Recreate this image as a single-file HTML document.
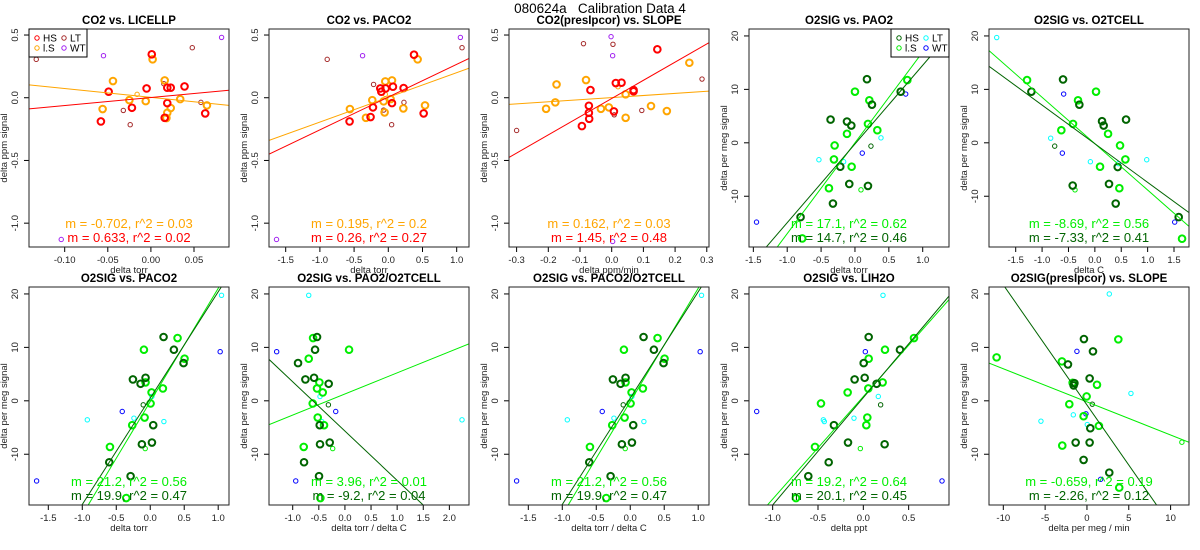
<!DOCTYPE html>
<html><head><meta charset="utf-8">
<style>
html,body{margin:0;padding:0;background:#fff;width:1200px;height:550px;overflow:hidden;}
svg{display:block;font-family:"Liberation Sans",Arial,sans-serif;}
</style></head>
<body>
<svg id="chart" width="1200" height="550" viewBox="0 0 1200 550" xmlns="http://www.w3.org/2000/svg">
<rect x="0" y="0" width="1200" height="550" fill="#fff"/>
<text x="600" y="13" text-anchor="middle" font-size="13.5" style="white-space:pre" xml:space="preserve">080624a   Calibration Data 4</text>
</svg>
<script>
// ---- data (data units) ----
const p1HS=[[-0.049,0.048],[-0.005,0.074],[0.001,0.346],[0.019,0.080],[0.023,0.080],[0.039,0.090],[0.019,-0.043],[-0.022,-0.080],[-0.058,-0.189],[0.016,-0.160],[0.063,-0.125]];
const p1LS=[[0.002,0.306],[-0.044,0.133],[0.016,0.138],[-0.025,-0.019],[-0.056,-0.090],[-0.006,-0.027],[0.034,-0.011],[0.023,-0.082],[0.019,-0.120],[0.018,-0.162],[0.065,-0.061]];
const p1LSs=[[-0.016,0.027]];
const p1HSs=[];
const p1LT=[[-0.133,0.306],[0.048,0.399],[0.015,0.112],[0.058,-0.037],[-0.032,-0.101],[-0.024,-0.215]];
const p1WT=[[-0.055,0.335],[0.082,0.481],[-0.104,-1.13]];

const p2HS=[[0.376,0.343],[-0.566,-0.189],[-0.117,0.074],[-0.039,0.074],[0.068,0.088],[0.224,0.077],[-0.224,-0.077],[-0.259,-0.154],[0.054,-0.043],[0.517,-0.125],[-0.102,0.048]];
const p2LS=[[0.429,0.306],[-0.044,0.130],[0.054,0.138],[-0.234,-0.019],[-0.561,-0.090],[-0.327,-0.160],[-0.068,-0.029],[0.034,-0.011],[-0.054,-0.117],[0.220,-0.085],[0.537,-0.061]];
const p2LSs=[[-0.044,0.027]];
const p2HSs=[];
const p2LT=[[-0.893,0.306],[1.078,0.399],[-0.215,0.106],[0.229,-0.037],[-0.068,-0.098],[0.049,-0.215]];
const p2WT=[[-0.376,0.335],[1.054,0.481],[-1.634,-1.13]];

const p3HS=[[0.144,0.386],[-0.067,0.061],[0.013,0.117],[0.031,0.120],[0.069,0.061],[0.069,0.051],[-0.072,-0.064],[-0.072,-0.120],[-0.071,-0.168],[-0.094,-0.226],[0.007,-0.109]];
const p3LS=[[0.245,0.279],[-0.174,0.106],[-0.081,0.141],[-0.178,-0.037],[-0.207,-0.088],[-0.034,-0.088],[-0.009,-0.077],[0.044,0.027],[0.044,-0.160],[0.124,-0.066],[0.174,-0.106]];
const p3LSs=[[0.020,0.088]];
const p3HSs=[];
const p3LT=[[-0.089,0.431],[0.004,0.426],[0.285,0.149],[0.095,-0.101],[0.008,-0.136],[-0.300,-0.261]];
const p3WT=[[-0.002,0.487],[0.003,0.335],[0.003,-1.146]];

const p4HS=[[-0.360,4.35],[-0.118,3.98],[-0.054,3.23],[0.177,11.9],[0.251,7.14],[0.675,9.57],[-0.217,-4.47],[-0.084,-7.70],[0.192,-8.07],[-0.325,-11.37],[-0.803,-13.9]];
const p4LS=[[0.0,9.57],[0.212,7.95],[0.773,11.74],[-0.118,1.68],[-0.300,-0.50],[0.192,3.54],[0.330,2.36],[-0.310,-3.11],[-0.049,-4.47],[-0.384,-8.5],[-0.778,-17.9]];
const p4LSs=[[0.089,-8.8]];
const p4HSs=[[0.236,-0.62]];
const p4LT=[[-0.532,-3.17],[-0.167,-3.54],[0.384,0.93]];
const p4WT=[[0.749,9.13],[0.108,-1.93],[-1.453,-14.84]];

const p5HS=[[-1.203,9.57],[-0.603,11.86],[-0.294,7.14],[0.136,4.04],[0.167,3.23],[0.591,4.35],[-0.420,-8.0],[0.268,-7.70],[0.395,-11.37],[0.433,-4.53],[1.589,-13.9]];
const p5LS=[[-1.285,11.74],[0.022,9.57],[-0.319,7.95],[-0.414,3.54],[-0.635,2.36],[0.250,1.68],[0.477,-0.50],[0.578,-3.11],[0.098,-4.47],[0.464,-8.5],[1.652,-17.95]];
const p5LSs=[[-0.376,-8.8]];
const p5HSs=[[-0.761,-0.62]];
const p5LT=[[-1.86,19.7],[-0.837,0.87],[-0.085,-3.54],[0.983,-3.17],[0.445,-3.9]];
const p5WT=[[-0.591,9.13],[-0.616,-1.93],[1.513,-14.84]];

const b1HS=[[0.196,11.94],[0.348,9.56],[0.490,7.06],[-0.255,4.0],[-0.069,4.31],[-0.142,3.19],[0.044,-4.56],[-0.123,-8.13],[0.025,-7.81],[-0.603,-11.5],[-0.289,-14.1]];
const b1LS=[[0.402,11.75],[-0.093,9.56],[0.505,7.88],[-0.069,3.44],[0.186,2.31],[0.020,1.56],[0.005,-0.5],[-0.083,-3.13],[-0.265,-4.56],[-0.593,-8.63],[-0.353,-18.2]];
const b1LSs=[[-0.074,-8.94]];
const b1HSs=[[-0.103,-0.75]];
const b1LT=[[1.049,19.75],[-0.926,-3.56],[-0.240,-3.25],[0.201,-3.88],[0.025,0.81]];
const b1WT=[[1.029,9.19],[-0.412,-2.0],[-1.672,-15.0]];

const b2HS=[[-0.534,11.94],[-0.572,9.56],[-0.898,7.06],[-0.757,4.0],[-0.591,4.31],[-0.311,3.19],[-0.483,-4.56],[-0.477,-8.13],[-0.291,-7.81],[-0.783,-11.5],[-0.496,-14.1]];
const b2LS=[[-0.610,11.75],[0.079,9.56],[-0.693,7.88],[-0.489,3.44],[-0.534,2.31],[-0.425,1.56],[-0.617,-0.5],[-0.521,-3.13],[-0.400,-4.56],[-0.789,-8.63],[-0.470,-18.2]];
const b2LSs=[[-0.234,-8.94]];
const b2HSs=[[-0.317,-0.75]];
const b2LT=[[-0.693,19.75],[-0.477,0.81],[-0.444,-3.88],[2.242,-3.56]];
const b2WT=[[-1.307,9.19],[-0.176,-2.0],[-0.942,-15.0]];

const b4HS=[[0.059,11.94],[0.404,9.56],[0.004,7.06],[-0.096,4.0],[0.015,4.31],[0.147,3.19],[-0.324,-4.56],[-0.169,-7.81],[0.235,-8.13],[-0.382,-11.5],[-0.607,-14.1]];
const b4LS=[[0.559,11.75],[0.239,9.56],[0.059,7.88],[0.213,3.44],[0.055,2.31],[-0.173,1.56],[-0.467,-0.5],[0.044,-3.13],[0.033,-4.56],[-0.533,-8.63],[-0.743,-18.2]];
const b4LSs=[[-0.033,-8.94]];
const b4HSs=[[0.191,-0.75]];
const b4LT=[[0.217,19.75],[0.165,0.81],[-0.103,-3.25],[-0.441,-3.56],[-0.43,-3.88]];
const b4WT=[[0.022,9.19],[-1.176,-2.0],[0.868,-15.0]];

const b5HS=[[-0.36,11.56],[0.72,9.25],[-2.27,6.81],[0.32,4.19],[-1.59,2.88],[-1.35,-7.81],[0.32,-7.81],[-0.40,-11.06],[2.67,-13.44],[0.40,-5.13],[-1.5,3.3]];
const b5LS=[[-10.80,8.13],[3.75,11.5],[-2.99,7.38],[-1.71,3.38],[1.20,3.0],[-0.04,0.81],[-2.11,-0.63],[-0.40,-2.88],[1.43,-4.69],[-2.95,-8.38],[3.86,-16.25]];
const b5LSs=[[11.35,-7.75]];
const b5HSs=[[0.64,-0.63]];
const b5LT=[[2.67,20.0],[5.26,1.38],[-1.63,-2.63],[-5.50,-3.81],[0.04,-4.44]];
const b5WT=[[-1.20,9.25],[-0.12,-2.44],[1.63,-14.7]];

// fits: [slope, intercept] for LS then HS
const fitsLS=[[-0.702,0.003],[0.197,0.003],[0.168,0.001],[17.0,0.0],[-8.68,-0.16],[21.2,-0.15],[3.95,1.28],[21.2,-0.15],[19.2,0.8],[-0.62,-0.2]];
const fitsHS=[[0.64,0.002],[0.261,0.005],[1.45,-0.006],[14.73,-0.22],[-7.23,-0.17],[19.9,0.5],[-9.23,-5.67],[19.9,0.5],[20.1,0.6],[-2.248,-0.78]];
const statLS=["m = -0.702, r^2 = 0.03","m = 0.195, r^2 = 0.2","m = 0.162, r^2 = 0.03","m = 17.1, r^2 = 0.62","m = -8.69, r^2 = 0.56","m = 21.2, r^2 = 0.56","m = 3.96, r^2 = 0.01","m = 21.2, r^2 = 0.56","m = 19.2, r^2 = 0.64","m = -0.659, r^2 = 0.19"];
const statHS=["m = 0.633, r^2 = 0.02","m = 0.26, r^2 = 0.27","m = 1.45, r^2 = 0.48","m = 14.7, r^2 = 0.46","m = -7.33, r^2 = 0.41","m = 19.9, r^2 = 0.47","m = -9.2, r^2 = 0.04","m = 19.9, r^2 = 0.47","m = 20.1, r^2 = 0.45","m = -2.26, r^2 = 0.12"];
const titles=["CO2 vs. LICELLP","CO2 vs. PACO2","CO2(presIpcor) vs. SLOPE","O2SIG vs. PAO2","O2SIG vs. O2TCELL","O2SIG vs. PACO2","O2SIG vs. PAO2/O2TCELL","O2SIG vs. PACO2/O2TCELL","O2SIG vs. LIH2O","O2SIG(presIpcor) vs. SLOPE"];
const xlabels=["delta torr","delta torr","delta ppm/min","delta torr","delta C","delta torr","delta torr / delta C","delta torr / delta C","delta ppt","delta per meg / min"];
const xTickLabels=[["-0.10","-0.05","0.00","0.05"],["-1.5","-1.0","-0.5","0.0","0.5","1.0"],["-0.3","-0.2","-0.1","0.0","0.1","0.2","0.3"],["-1.5","-1.0","-0.5","0.0","0.5","1.0"],["-1.5","-1.0","-0.5","0.0","0.5","1.0","1.5"],["-1.5","-1.0","-0.5","0.0","0.5","1.0"],["-1.0","-0.5","0.0","0.5","1.0","1.5","2.0"],["-1.5","-1.0","-0.5","0.0","0.5","1.0"],["-1.0","-0.5","0.0","0.5"],["-10","-5","0","5","10"]];
const yTickCO2=["-1.0","-0.5","0.0","0.5"];
const yTickO2=["-10","0","10","20"];
const xlims=[[-0.1414,0.0906],[-1.744,1.18],[-0.324,0.307],[-1.564,1.388],[-2.006,1.784],[-1.784,1.159],[-1.454,2.376],[-1.784,1.159],[-1.261,0.945],[-11.71,12.2]];
const series=[[p1HS,p1LS,p1HSs,p1LSs,p1LT,p1WT],[p2HS,p2LS,p2HSs,p2LSs,p2LT,p2WT],[p3HS,p3LS,p3HSs,p3LSs,p3LT,p3WT],[p4HS,p4LS,p4HSs,p4LSs,p4LT,p4WT],[p5HS,p5LS,p5HSs,p5LSs,p5LT,p5WT],[b1HS,b1LS,b1HSs,b1LSs,b1LT,b1WT],[b2HS,b2LS,b2HSs,b2LSs,b2LT,b2WT],[b1HS,b1LS,b1HSs,b1LSs,b1LT,b1WT],[b4HS,b4LS,b4HSs,b4LSs,b4LT,b4WT],[b5HS,b5LS,b5HSs,b5LSs,b5LT,b5WT]];

// ---- drawing ----
const NS="http://www.w3.org/2000/svg";
const svg=document.getElementById('chart');
function mk(tag,attrs,parent){const e=document.createElementNS(NS,tag);for(const k in attrs)e.setAttribute(k,attrs[k]);(parent||svg).appendChild(e);return e;}
const CO2C={HS:"#FF0000",LS:"#FFA500",LT:"#A52A2A",WT:"#A020F0"};
const O2C={HS:"#006400",LS:"#00EE00",LT:"#00FFFF",WT:"#0000FF"};
const W=200,H=218;
for(let i=0;i<10;i++){
  const col=i%5,row=Math.floor(i/5);
  const bx=29+240*col, by=row===0?29:287;
  const isCO2=(i<3);
  const C=isCO2?CO2C:O2C;
  const ylim=isCO2?[-1.19,0.548]:[-19.5,21.3];
  const [x0,x1]=xlims[i];
  const sx=v=>bx+(v-x0)/(x1-x0)*W;
  const sy=v=>by+H-(v-ylim[0])/(ylim[1]-ylim[0])*H;
  const g=mk('g',{});
  
  
  const clip=mk('clipPath',{id:'clip'+i},g);
  mk('rect',{x:bx,y:by,width:W,height:H},clip);
  const t=mk('text',{x:bx+W/2,y:by-5,'text-anchor':'middle','font-size':'11.5','font-weight':'bold'},g);
  t.textContent=titles[i];
  
  
  xTickLabels[i].forEach(lbl=>{
    const v=parseFloat(lbl),px=sx(v);
    mk('line',{x1:px,y1:by+H,x2:px,y2:by+H+5,stroke:'#000','stroke-width':1},g);
    const tl=mk('text',{x:px,y:by+H+16,'text-anchor':'middle','font-size':'9.5',fill:'#222'},g);
    tl.textContent=lbl;
    
    
  });
  const xl=mk('text',{x:bx+W/2,y:by+H+26,'text-anchor':'middle','font-size':'9.5',fill:'#222'},g);
  xl.textContent=xlabels[i];
  
  
  (isCO2?yTickCO2:yTickO2).forEach(lbl=>{
    const v=parseFloat(lbl),py=sy(v);
    mk('line',{x1:bx-5,y1:py,x2:bx,y2:py,stroke:'#000','stroke-width':1},g);
    const tl=mk('text',{x:bx-11,y:py,'text-anchor':'middle','font-size':'9.5',fill:'#222',transform:`rotate(-90 ${bx-11} ${py})`},g);
    tl.textContent=lbl;
    
    
  });
  const yl=mk('text',{x:bx-22,y:by+H/2+10,'text-anchor':'middle','font-size':'9.5',fill:'#222',transform:`rotate(-90 ${bx-22} ${by+H/2+10})`},g);
  yl.textContent=isCO2?"delta ppm signal":"delta per meg signal";
  
  
  const pg=mk('g',{'clip-path':`url(#clip${i})`},g);
  const [sHS,sLS,sHSs,sLSs,sLT,sWT]=series[i];
  const spec=[[sLT,C.LT,2.2,1,'lt-point'],[sWT,C.WT,2.2,1,'wt-point'],[sHSs,C.HS,2.2,1,'hs-small-point'],[sLSs,C.LS,2.2,1,'ls-small-point'],[sLS,C.LS,3.3,2,'ls-point'],[sHS,C.HS,3.3,2,'hs-point']];
  spec.forEach(([arr,color,r,sw,nm])=>{
    arr.forEach(p=>{
      const c=mk('circle',{cx:sx(p[0]),cy:sy(p[1]),r:r,fill:'none',stroke:color,'stroke-width':sw},pg);
      
      
    });
  });
  [[fitsLS[i],C.LS,'ls-fit-line'],[fitsHS[i],C.HS,'hs-fit-line']].forEach(([f,color,nm])=>{
    const l=mk('line',{x1:sx(x0),y1:sy(f[0]*x0+f[1]),x2:sx(x1),y2:sy(f[0]*x1+f[1]),stroke:color,'stroke-width':1},pg);
    
    
  });
  const s1=mk('text',{x:bx+W/2,y:by+199,'text-anchor':'middle','font-size':'13',fill:C.LS},g);
  s1.textContent=statLS[i];
  
  
  const s2=mk('text',{x:bx+W/2,y:by+213,'text-anchor':'middle','font-size':'13',fill:C.HS},g);
  s2.textContent=statHS[i];
  
  
  const b=mk('rect',{x:bx,y:by,width:W,height:H,fill:'none',stroke:'#222','stroke-width':1},g);
  
  
  if(i===0||i===3){
    const lx=i===0?bx:bx+W-58, ly=by;
    const lg=mk('g',{},g);
    
    
    mk('rect',{x:lx,y:ly,width:58,height:28,fill:'#fff',stroke:'#000','stroke-width':1},lg);
    [['HS',0,0],['LT',1,0],['LS',0,1],['WT',1,1]].forEach(([k,cx,cy])=>{
      const ex=lx+8+cx*27, ey=ly+9+cy*10;
      const e=mk('g',{},lg);
      
      
      mk('circle',{cx:ex,cy:ey,r:2.2,fill:'none',stroke:C[k],'stroke-width':1},e);
      const tt=mk('text',{x:ex+6,y:ey+3.5,'font-size':'10',fill:'#000'},e);
      tt.textContent=(k==='LS'?'l.S':k);
    });
  }
}
</script>
</body></html>
